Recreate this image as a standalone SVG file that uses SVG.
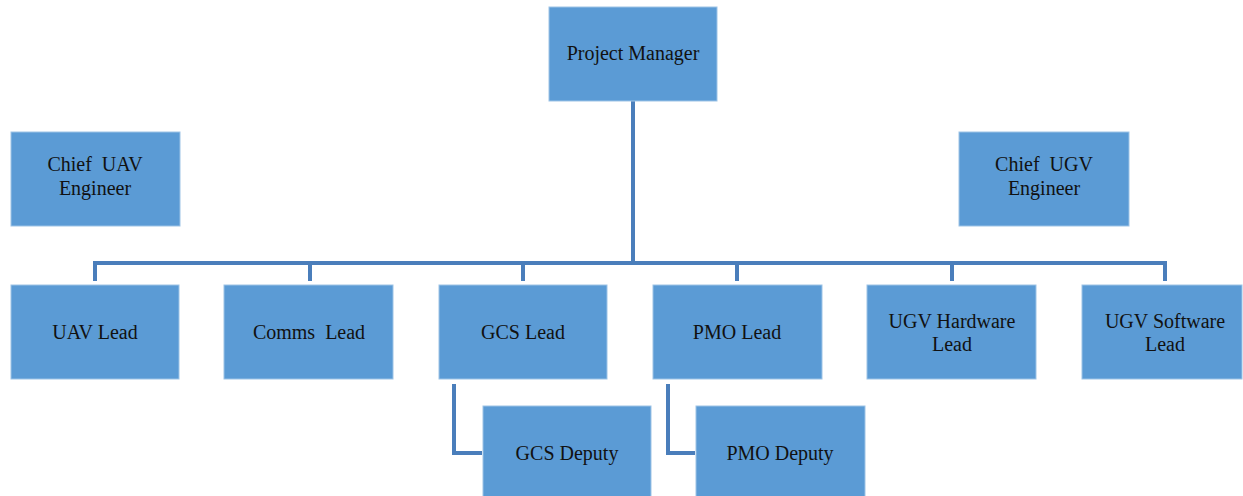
<svg xmlns="http://www.w3.org/2000/svg" width="1243" height="496" viewBox="0 0 1243 496">
  <style>
    .box { fill: #5b9bd5; stroke: #9dc3e6; stroke-width: 1; }
    .lbl { font-family: "Liberation Serif", "Times New Roman", serif; font-size: 20px; fill: #111; text-anchor: middle; white-space: pre; }
    .wire { fill: none; stroke: #4a7ebb; stroke-width: 4; stroke-linecap: butt; stroke-linejoin: miter; }
  </style>
  <rect width="1243" height="496" fill="#ffffff"/>

  <g id="connectors">
    <path class="wire" d="M633,101 V263"/>
    <path class="wire" d="M95,281 V263 H1165 V281"/>
    <path class="wire" d="M310,263 V281"/>
    <path class="wire" d="M523,263 V281"/>
    <path class="wire" d="M737,263 V281"/>
    <path class="wire" d="M952,263 V281"/>
    <path class="wire" d="M454,384 V453 H482"/>
    <path class="wire" d="M668,384 V453 H695"/>
  </g>

  <g id="project-manager">
    <rect class="box" x="549" y="7" width="168" height="94"/>
    <text class="lbl" x="633" y="60">Project Manager</text>
  </g>
  <g id="chief-uav-engineer">
    <rect class="box" x="11" y="132" width="169" height="94"/>
    <text class="lbl" x="95" y="171">Chief  UAV</text>
    <text class="lbl" x="95" y="195">Engineer</text>
  </g>
  <g id="chief-ugv-engineer">
    <rect class="box" x="959" y="132" width="170" height="94"/>
    <text class="lbl" x="1044" y="171">Chief  UGV</text>
    <text class="lbl" x="1044" y="195">Engineer</text>
  </g>
  <g id="uav-lead">
    <rect class="box" x="11" y="285" width="168" height="94"/>
    <text class="lbl" x="95" y="339">UAV Lead</text>
  </g>
  <g id="comms-lead">
    <rect class="box" x="224" y="285" width="169" height="94"/>
    <text class="lbl" x="309" y="339">Comms  Lead</text>
  </g>
  <g id="gcs-lead">
    <rect class="box" x="439" y="285" width="168" height="94"/>
    <text class="lbl" x="523" y="339">GCS Lead</text>
  </g>
  <g id="pmo-lead">
    <rect class="box" x="653" y="285" width="169" height="94"/>
    <text class="lbl" x="737" y="339">PMO Lead</text>
  </g>
  <g id="ugv-hardware-lead">
    <rect class="box" x="867" y="285" width="169" height="94"/>
    <text class="lbl" x="952" y="328">UGV Hardware</text>
    <text class="lbl" x="952" y="351">Lead</text>
  </g>
  <g id="ugv-software-lead">
    <rect class="box" x="1082" y="285" width="160" height="94"/>
    <text class="lbl" x="1165" y="328">UGV Software</text>
    <text class="lbl" x="1165" y="351">Lead</text>
  </g>
  <g id="gcs-deputy">
    <rect class="box" x="483" y="406" width="168" height="95"/>
    <text class="lbl" x="567" y="460">GCS Deputy</text>
  </g>
  <g id="pmo-deputy">
    <rect class="box" x="696" y="406" width="169" height="95"/>
    <text class="lbl" x="780" y="460">PMO Deputy</text>
  </g>
</svg>
